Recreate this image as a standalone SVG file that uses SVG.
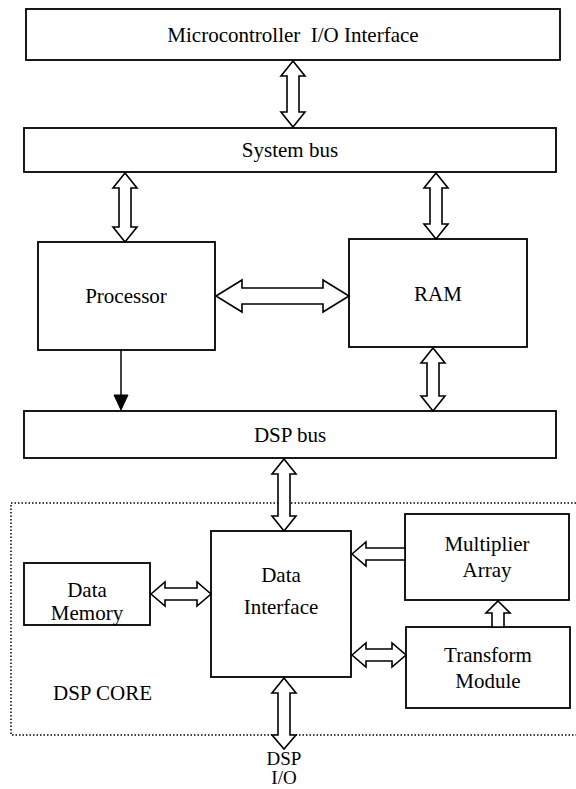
<svg xmlns="http://www.w3.org/2000/svg" width="576" height="789" viewBox="0 0 576 789">
<style>
.box{fill:#fff;stroke:#000;stroke-width:1.8}
.arr{fill:#fff;stroke:#000;stroke-width:1.6;stroke-linejoin:miter}
.t{font-family:"Liberation Serif","Times New Roman",serif;font-size:21px;fill:#000;text-anchor:middle}
.dot{fill:none;stroke:#000;stroke-width:1.5;stroke-dasharray:1.5 2}
</style>
<rect width="576" height="789" fill="#fff"/>
<g id="dsp-core-region">
<path class="dot" d="M576,503 H11 V735 H576"/>
<text class="t" x="53" y="700" style="text-anchor:start">DSP CORE</text>
</g>
<g id="microcontroller-io"><rect class="box" x="26" y="9" width="534" height="51"/><text class="t" x="293" y="42" xml:space="preserve">Microcontroller  I/O Interface</text></g>
<g id="system-bus"><rect class="box" x="24" y="128" width="532" height="44"/><text class="t" x="290" y="157">System bus</text></g>
<g id="processor"><rect class="box" x="38" y="242" width="177" height="108"/><text class="t" x="126" y="303">Processor</text></g>
<g id="ram"><rect class="box" x="349" y="239" width="178" height="108"/><text class="t" x="438" y="301">RAM</text></g>
<g id="dsp-bus"><rect class="box" x="24" y="411" width="532" height="47"/><text class="t" x="290" y="442">DSP bus</text></g>
<g id="data-interface"><rect class="box" x="211" y="531" width="140" height="146"/><text class="t" x="281" y="582">Data</text><text class="t" x="281" y="614">Interface</text></g>
<g id="multiplier-array"><rect class="box" x="405" y="514" width="164" height="86"/><text class="t" x="487" y="551">Multiplier</text><text class="t" x="487" y="577">Array</text></g>
<g id="data-memory"><rect class="box" x="24" y="563" width="126" height="62"/><text class="t" x="87" y="597">Data</text><text class="t" x="87" y="620">Memory</text></g>
<g id="transform-module"><rect class="box" x="406" y="627" width="164" height="81"/><text class="t" x="488" y="662">Transform</text><text class="t" x="488" y="688">Module</text></g>
<g id="dsp-io"><text class="t" x="284" y="765" style="font-size:19px">DSP</text><text class="t" x="284" y="784" style="font-size:19px">I/O</text></g>
<g id="connectors">
<polygon class="arr" points="293,61 305,76 299,76 299,112 305,112 293,127 281,112 287,112 287,76 281,76"/>
<polygon class="arr" points="125,173 137,188 131,188 131,227 137,227 125,242 113,227 119,227 119,188 113,188"/>
<polygon class="arr" points="436,173 448,188 442,188 442,224 448,224 436,239 424,224 430,224 430,188 424,188"/>
<polygon class="arr" points="216,296 242,280 242,288 323,288 323,280 349,296 323,312 323,304 242,304 242,312"/>
<line x1="121" y1="350" x2="121" y2="396" stroke="#000" stroke-width="1.5"/>
<polygon points="114,395 128,395 121,410" fill="#000" stroke="#000" stroke-width="1"/>
<polygon class="arr" points="433,348 445,363 439,363 439,396 445,396 433,411 421,396 427,396 427,363 421,363"/>
<polygon class="arr" points="284,459 296,474 290,474 290,516 296,516 284,531 272,516 278,516 278,474 272,474"/>
<polygon class="arr" points="352,554 366,542 366,548 405,548 405,560 366,560 366,566"/>
<polygon class="arr" points="498,601 510,613 504,613 504,627 492,627 492,613 486,613"/>
<polygon class="arr" points="151,594 165,582 165,588 197,588 197,582 211,594 197,606 197,600 165,600 165,606"/>
<polygon class="arr" points="352,655 366,643 366,649 392,649 392,643 406,655 392,667 392,661 366,661 366,667"/>
<polygon class="arr" points="284,678 296,693 290,693 290,735 296,735 284,749 272,735 278,735 278,693 272,693"/>
</g>
</svg>
